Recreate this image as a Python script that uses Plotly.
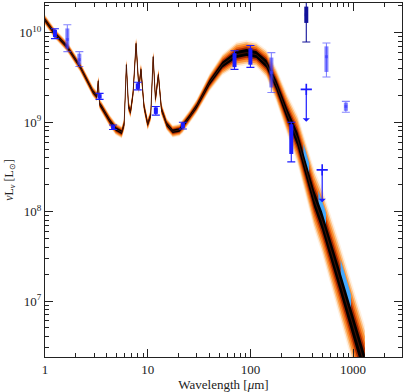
import numpy as np
import plotly.graph_objects as go

# ---------------- model SED (band centre) ----------------
# wavelength [micron], nuLnu [Lsun], half-width of the model band [dex]
sed_wave = [1.0, 1.25, 1.64, 2.19, 2.92, 3.2, 3.3, 3.4, 3.58, 4.28, 4.89, 5.59,
            5.9, 6.2, 6.5, 6.8, 7.2, 7.7, 8.2, 8.6, 9.2, 10.0, 10.7, 11.3, 11.9,
            12.7, 13.6, 15.3, 17.5, 20.4, 21.8, 25.5, 30.0, 40.0, 53.5, 73.0,
            91.5, 114.0, 143.0, 178.0, 228.0, 287.0, 417.0, 498.0, 731.0,
            1074.0, 1300.0]
sed_lum = [1.39e10, 9.75e9, 6.98e9, 4.19e9, 2.21e9, 1.94e9, 2.9e9, 1.6e9, 1.47e9,
           1.03e9, 8.4e8, 7.7e8, 9.5e8, 4.4e9, 1.5e9, 1.3e9, 2.1e9, 7.6e9, 2.4e9,
           3.9e9, 1.5e9, 9.5e8, 1.2e9, 5.4e9, 1.8e9, 3.4e9, 1.4e9, 9.5e8, 7.9e8,
           8.2e8, 9.0e8, 1.14e9, 1.51e9, 2.78e9, 4.41e9, 5.7e9, 6.0e9, 5.7e9,
           4.5e9, 2.64e9, 1.23e9, 6.5e8, 1.39e8, 7.9e7, 1.8e7, 3.9e6, 1.9e6]
sed_spread = [0.06, 0.06, 0.06, 0.06, 0.06, 0.06, 0.06, 0.06, 0.06, 0.07, 0.07, 0.07,
              0.07, 0.07, 0.07, 0.07, 0.07, 0.07, 0.07, 0.07, 0.07, 0.07, 0.07, 0.07,
              0.07, 0.07, 0.07, 0.07, 0.07, 0.07, 0.08, 0.08, 0.08, 0.10, 0.12, 0.14,
              0.14, 0.14, 0.16, 0.19, 0.23, 0.28, 0.34, 0.37, 0.42, 0.45, 0.45]

# ---------------- photometry ----------------
det_wave = [1.25, 1.65, 2.16, 3.4, 4.6, 8.0, 12.0, 22.0, 70.0, 100.0, 160.0, 250.0,
            350.0, 550.0, 850.0]
det_lum = [1.0e10, 8.4e9, 5.0e9, 1.94e9, 8.8e8, 2.5e9, 1.36e9, 9.3e8, 4.9e9, 5.4e9,
           3.6e9, 8.1e8, 1.59e10, 5.4e9, 1.5e9]
det_hi = [1.11e10, 1.23e10, 6.15e9, 2.1e9, 9.3e8, 2.8e9, 1.5e9, 1.0e9, 6.3e9, 7.2e9,
          6.0e9, 1.0e9, 3.2e10, 7.7e9, 1.71e9]
det_lo = [8.6e9, 6.15e9, 4.19e9, 1.8e9, 8.3e8, 2.3e9, 1.2e9, 8.4e8, 3.9e9, 4.1e9,
          2.15e9, 3.6e8, 7.9e9, 3.2e9, 1.29e9]
det_style = ['strong', 'faint', 'faint', 'strong', 'strong', 'strong', 'strong', 'strong',
             'strong', 'strong', 'faint', 'strong', 'dark', 'faint', 'faint']

lim_wave = [350.0, 500.0]
lim_lum = [2.33e9, 2.93e8]

# filters where the synthetic photometry shows up on the band
synth_wave = [350.0, 500.0, 850.0]

# ---------------- figure ----------------
fig = go.Figure()

lw = np.log10(sed_wave)
ll = np.log10(sed_lum)
sp = np.array(sed_spread)


def band(frac, color):
    up = 10 ** (ll + frac * sp)
    dn = 10 ** (ll - frac * sp)
    xs = list(sed_wave) + list(sed_wave[::-1])
    ys = list(up) + list(dn[::-1])
    fig.add_trace(go.Scatter(x=xs, y=ys, mode='lines', fill='toself',
                             fillcolor=color, line=dict(width=0),
                             hoverinfo='skip'))


for frac, col in [(1.0, '#fff0e0'), (0.86, '#fdc68e'), (0.72, '#fa9438'),
                  (0.56, '#ea5e0e'), (0.42, '#a02800')]:
    band(frac, col)

# synthetic photometry patches (cyan)
for w in synth_wave:
    half = 0.025 + 0.06 * (np.log10(w) - 2.5)
    xs = np.logspace(np.log10(w) - half, np.log10(w) + half, 6)
    c = np.interp(np.log10(xs), lw, ll)
    s = np.interp(np.log10(xs), lw, sp)
    up = 10 ** (c + 0.62 * s)
    dn = 10 ** (c + 0.15 * s)
    fig.add_trace(go.Scatter(x=list(xs) + list(xs[::-1]), y=list(up) + list(dn[::-1]),
                             mode='lines', fill='toself', fillcolor='#45aaff',
                             line=dict(width=0), hoverinfo='skip'))

band(0.28, '#000000')
fig.add_trace(go.Scatter(x=sed_wave, y=sed_lum, mode='lines',
                         line=dict(color='#4a1404', width=0.9), hoverinfo='skip'))

# detections
colors = {'strong': '#1c1cff', 'faint': 'rgba(60,60,255,0.62)', 'dark': '#12129a'}
blob_frac = {'strong': 0.75, 'faint': 0.75, 'dark': 0.3}
for st, col in colors.items():
    idx = [i for i, s in enumerate(det_style) if s == st]
    x = [det_wave[i] for i in idx]
    y = np.array([det_lum[i] for i in idx])
    hi = np.array([det_hi[i] for i in idx])
    lo = np.array([det_lo[i] for i in idx])
    # thin bar with caps
    fig.add_trace(go.Scatter(
        x=x, y=y, mode='markers',
        marker=dict(symbol='square', size=3, color=col),
        error_y=dict(type='data', symmetric=False, array=hi - y, arrayminus=y - lo,
                     color=col, thickness=1.1, width=4)))
    # thick inner blob
    f = blob_frac[st]
    bhi = y * (hi / y) ** f
    blo = y * (lo / y) ** f
    fig.add_trace(go.Scatter(
        x=x, y=y, mode='markers', marker=dict(size=1, color=col),
        error_y=dict(type='data', symmetric=False, array=bhi - y, arrayminus=y - blo,
                     color=col, thickness=4, width=0)))

# upper limits
fig.add_trace(go.Scatter(x=lim_wave, y=lim_lum, mode='markers',
                         marker=dict(symbol='cross-thin', size=8,
                                     line=dict(color='#1c1cff', width=1.6))))
for w, l in zip(lim_wave, lim_lum):
    fig.add_annotation(x=np.log10(w), y=np.log10(l), xref='x', yref='y',
                       text='', showarrow=True, ax=0, ay=34, arrowside='start',
                       arrowhead=4, arrowsize=1.3, arrowwidth=1.2,
                       arrowcolor='#1c1cff')

xminor = [m * 10 ** e for e in range(0, 4) for m in range(2, 10) if m * 10 ** e < 3000]
yminor = [m * 10 ** e for e in range(6, 11) for m in range(2, 10)]

axis_common = dict(type='log', showgrid=False, zeroline=False, showline=True,
                   linecolor='#222', linewidth=1, mirror='allticks',
                   ticks='inside', ticklen=8, tickcolor='#222', tickwidth=1,
                   tickfont=dict(family='Liberation Serif', size=13, color='#222'))

fig.update_xaxes(**axis_common, range=[0, 3.476],
                 tickvals=[1, 10, 100, 1000], ticktext=['1', '10', '100', '1000'],
                 minor=dict(tickvals=xminor, ticks='inside', ticklen=4, tickcolor='#222'),
                 title=dict(text='Wavelength [<i>μ</i>m]', standoff=5,
                            font=dict(family='Liberation Serif', size=13, color='#222')))
fig.update_yaxes(**axis_common, range=[6.374, 10.333],
                 tickvals=[1e7, 1e8, 1e9, 1e10],
                 ticktext=['10<sup>7</sup>', '10<sup>8</sup>', '10<sup>9</sup>', '10<sup>10</sup>'],
                 minor=dict(tickvals=yminor, ticks='inside', ticklen=4, tickcolor='#222'),
                 title=dict(text='<i>ν</i>L<sub><i>ν</i></sub> [L<sub>⊙</sub>]', standoff=3,
                            font=dict(family='Liberation Serif', size=12, color='#222')))

fig.update_layout(width=404, height=392, margin=dict(l=45, r=1, t=3, b=33),
                  plot_bgcolor='white', paper_bgcolor='white', showlegend=False)

fig.write_html("out.html", config={'displayModeBar': False},
               post_script="document.body.style.margin='0px';")
